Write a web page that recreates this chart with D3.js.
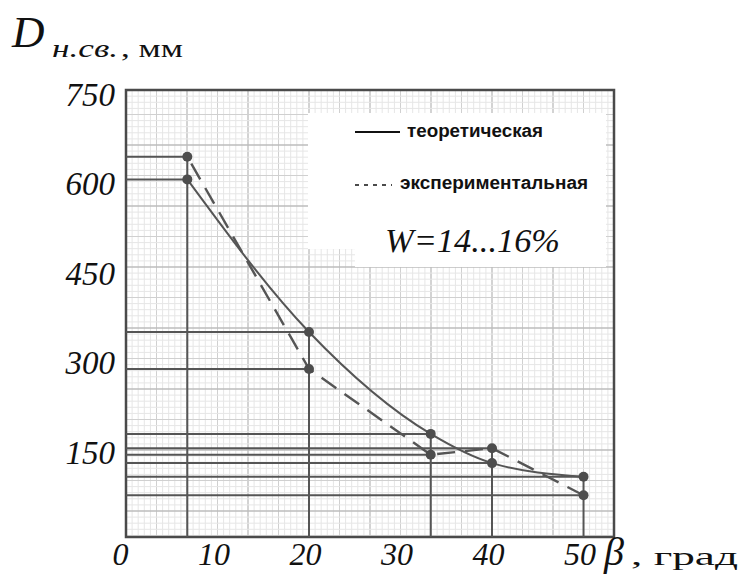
<!DOCTYPE html>
<html>
<head>
<meta charset="utf-8">
<script src="https://d3js.org/d3.v7.min.js"></script>
<style>
  body { margin: 0; background: #fff; }
  svg text { fill: #111; }
</style>
</head>
<body>
<div id="chart"></div>
<script>
// angles, degrees (vertical guide lines sit on the paper grid)
var angles = [6.7, 20, 33.3, 40, 50];
// D н.св., mm
var theoretical = [600, 344, 173, 124, 101];
var experimental = [638, 282, 138, 149, 70];
var yTicks = [150, 300, 450, 600, 750];
var xTicks = [0, 10, 20, 30, 40, 50];
var seriesNames = ["теоретическая", "экспериментальная"];
var note = "W=14...16%";

var width = 742, height = 583;
var pLeft = 126, pRight = 614, pTop = 90, pBottom = 537;

var svg = d3.select("#chart").append("svg")
  .attr("width", width)
  .attr("height", height);

var x = d3.scaleLinear().domain([0, 53.33]).range([pLeft, pRight]);
var y = d3.scaleLinear().domain([0, 750]).range([pBottom, pTop]);

// graph paper
var grid = svg.append("g");
var step = 6.1;
d3.range(0, 81).forEach(function(i) {
  var px = pLeft + i * step;
  if (px > pRight + 0.5) return;
  grid.append("line")
    .attr("x1", px).attr("x2", px).attr("y1", pTop).attr("y2", pBottom)
    .attr("stroke", i % 10 == 0 ? "#bcbcbc" : (i % 5 == 0 ? "#d0d0d0" : "#e6e6e6"))
    .attr("stroke-width", i % 10 == 0 ? 1.3 : 1);
});
d3.range(-9, 66).forEach(function(j) {
  var py = 145 + j * step;
  if (py < pTop || py > pBottom) return;
  var k = ((j % 10) + 10) % 10;
  grid.append("line")
    .attr("x1", pLeft).attr("x2", pRight).attr("y1", py).attr("y2", py)
    .attr("stroke", k == 0 ? "#bcbcbc" : (k == 5 ? "#d0d0d0" : "#e6e6e6"))
    .attr("stroke-width", k == 0 ? 1.3 : 1);
});

// white patch under the legend
svg.append("rect").attr("x", 308).attr("y", 113).attr("width", 298).attr("height", 136).attr("fill", "#fff");
svg.append("rect").attr("x", 355).attr("y", 240).attr("width", 251).attr("height", 27).attr("fill", "#fff");

// frame
svg.append("rect")
  .attr("x", pLeft).attr("y", pTop)
  .attr("width", pRight - pLeft).attr("height", pBottom - pTop)
  .attr("fill", "none").attr("stroke", "#4a4a4a").attr("stroke-width", 2.5);

// guide lines from the axes to every point
var guides = svg.append("g").attr("stroke", "#555").attr("stroke-width", 2);
angles.forEach(function(a, i) {
  [theoretical[i], experimental[i]].forEach(function(v) {
    guides.append("line")
      .attr("x1", x(0)).attr("x2", x(a))
      .attr("y1", y(v)).attr("y2", y(v));
  });
  guides.append("line")
    .attr("x1", x(a)).attr("x2", x(a))
    .attr("y1", y(0)).attr("y2", y(Math.max(theoretical[i], experimental[i])));
});

var theoLine = d3.line()
  .x(function(d, i) { return x(angles[i]); })
  .y(function(d) { return y(d); })
  .curve(d3.curveMonotoneX);
var expLine = d3.line()
  .x(function(d, i) { return x(angles[i]); })
  .y(function(d) { return y(d); });

svg.append("path").datum(theoretical)
  .attr("d", theoLine)
  .attr("fill", "none").attr("stroke", "#555").attr("stroke-width", 2);
svg.append("path").datum(experimental)
  .attr("d", expLine)
  .attr("fill", "none").attr("stroke", "#555").attr("stroke-width", 2.4)
  .attr("stroke-dasharray", "18,10").attr("stroke-dashoffset", -8);

// points
[theoretical, experimental].forEach(function(s) {
  svg.append("g").selectAll("circle")
    .data(s).enter().append("circle")
    .attr("cx", function(d, i) { return x(angles[i]); })
    .attr("cy", function(d) { return y(d); })
    .attr("r", 5)
    .attr("fill", "#4d4d4d");
});

// axes
var yAxis = svg.append("g")
  .attr("transform", "translate(" + pLeft + ",0)")
  .call(d3.axisLeft(y).tickValues(yTicks).tickSize(0).tickPadding(11));
yAxis.select(".domain").remove();
yAxis.selectAll("text")
  .attr("dy", "0.35em").attr("y", 4)
  .style("font-family", "Liberation Serif").style("font-style", "italic")
  .style("font-size", "33px").style("fill", "#111");

var xAxis = svg.append("g")
  .attr("transform", "translate(0," + pBottom + ")")
  .call(d3.axisBottom(x).tickValues(xTicks).tickSize(0).tickFormat(d3.format("d")));
xAxis.select(".domain").remove();
xAxis.selectAll("text")
  .attr("dy", 0).attr("y", 28)
  .attr("dx", function(d) { return d == 0 ? -6 : -4; })
  .style("font-family", "Liberation Serif").style("font-style", "italic")
  .style("font-size", "32px").style("fill", "#111");

// axis titles (the scan is stretched sideways, so the glyphs are too)
svg.append("text").attr("x", 12).attr("y", 47).text("D")
  .style("font-family", "Liberation Serif").style("font-style", "italic").style("font-size", "45px");
svg.append("text").attr("x", 52).attr("y", 57).text("н.св.")
  .attr("textLength", 66).attr("lengthAdjust", "spacingAndGlyphs")
  .style("font-family", "Liberation Serif").style("font-style", "italic").style("font-size", "26px");
svg.append("text").attr("x", 121).attr("y", 57).text(", мм")
  .attr("textLength", 62).attr("lengthAdjust", "spacingAndGlyphs")
  .style("font-family", "Liberation Serif").style("font-size", "25px");

svg.append("text").attr("x", 604).attr("y", 565).text("β")
  .style("font-family", "Liberation Serif").style("font-style", "italic").style("font-size", "40px");
svg.append("text").attr("x", 631).attr("y", 565).text(", град")
  .attr("textLength", 107).attr("lengthAdjust", "spacingAndGlyphs")
  .style("font-family", "Liberation Serif").style("font-size", "26px");

// legend
var lg = svg.append("g");
lg.append("line").attr("x1", 355).attr("x2", 400).attr("y1", 132).attr("y2", 132)
  .attr("stroke", "#111").attr("stroke-width", 2);
lg.append("text").attr("x", 407).attr("y", 137).text(seriesNames[0])
  .attr("textLength", 136).attr("lengthAdjust", "spacingAndGlyphs")
  .style("font-family", "Liberation Sans").style("font-weight", "bold").style("font-size", "18px");
lg.append("line").attr("x1", 355).attr("x2", 392).attr("y1", 185).attr("y2", 185)
  .attr("stroke", "#111").attr("stroke-width", 1.6).attr("stroke-dasharray", "4,5");
lg.append("text").attr("x", 400).attr("y", 189).text(seriesNames[1])
  .attr("textLength", 188).attr("lengthAdjust", "spacingAndGlyphs")
  .style("font-family", "Liberation Sans").style("font-weight", "bold").style("font-size", "18px");
lg.append("text").attr("x", 385).attr("y", 252).text(note)
  .attr("textLength", 175).attr("lengthAdjust", "spacingAndGlyphs")
  .style("font-family", "Liberation Serif").style("font-style", "italic").style("font-size", "34px");
</script>
</body>
</html>
